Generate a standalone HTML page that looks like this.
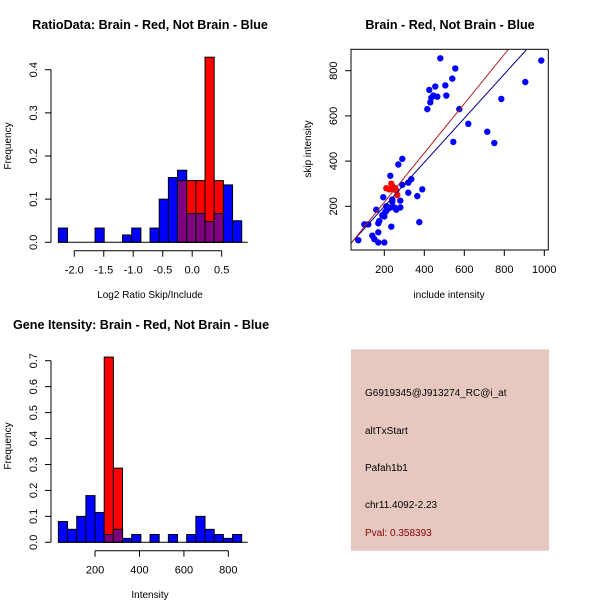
<!DOCTYPE html>
<html><head><meta charset="utf-8"><style>
body{margin:0;background:#fff}
svg{display:block;font-family:"Liberation Sans",sans-serif}
</style></head><body>
<svg id="c" width="600" height="600" viewBox="0 0 600 600"></svg>
<script>
// Panel 1: ratio histogram
const ratioBinStart = -2.27, ratioBinWidth = 0.1555;
const ratioBlue = [0.033,0,0,0,0.033,0,0,0.017,0.033,0,0.033,0.1,0.15,0.167,0.067,0.067,0.048,0.067,0.133,0.05];
const ratioRed  = [0,0,0,0,0,0,0,0,0,0,0,0,0,0.143,0.143,0.143,0.429,0.143,0,0];
const ratioXTicks = [-2.0,-1.5,-1.0,-0.5,0.0,0.5];
const ratioYTicks = [0.0,0.1,0.2,0.3,0.4];
// Panel 2: scatter
const blueX = [70,100,120,140,150,170,170,170,175,160,200,195,190,200,205,210,210,220,230,230,235,240,240,250,260,270,280,280,290,290,320,320,335,365,375,390,415,425,430,435,445,455,465,480,505,510,540,545,555,575,620,715,750,785,905,985];
const blueY = [50,120,120,70,55,40,85,125,135,185,40,240,160,155,175,180,200,190,195,335,110,230,220,195,185,385,225,195,410,295,305,260,320,245,130,275,630,715,660,680,690,730,685,855,735,690,765,485,810,630,565,530,480,675,750,845];
const redX = [210,225,235,240,255,265,260,245];
const redY = [280,275,300,275,280,250,270,285];
const redLine = [0,1.09];   // intercept, slope
const blueLine = [4,0.976];
const scatXTicks = [200,400,600,800,1000];
const scatYTicks = [200,400,600,800];
// Panel 3: intensity histogram
const intBinStart = 35, intBinWidth = 41.25;
const intBlue = [0.08,0.05,0.1,0.18,0.115,0.03,0.05,0.015,0.03,0,0.03,0,0.03,0,0.03,0.1,0.05,0.03,0.015,0.03];
const intRed  = [0,0,0,0,0,0.714,0.286,0,0,0,0,0,0,0,0,0,0,0,0,0];
const intXTicks = [200,400,600,800];
const intYTicks = [0.0,0.1,0.2,0.3,0.4,0.5,0.6,0.7];

const svg = document.getElementById('c');
const NS = 'http://www.w3.org/2000/svg';
function el(tag, at, parent){const e=document.createElementNS(NS,tag);for(const k in at)e.setAttribute(k,at[k]);(parent||svg).appendChild(e);return e;}
function txt(s,x,y,at){const t=el('text',Object.assign({x:x,y:y,'font-size':10,'text-anchor':'middle',fill:'#000'},at||{}));t.textContent=s;return t;}

function hist(opts){
  const g = el('g',{});
  
  
  const X=v=>opts.x0+(v-opts.xv0)*opts.xs, Y=v=>opts.y0-v*opts.ys;
  opts.blue.forEach((b,i)=>{
    const a=opts.bs+i*opts.bw, r=opts.red[i];
    const x=X(a), w=opts.bw*opts.xs;
    if(b>0){const e=el('rect',{x:x,y:Y(b),width:w,height:Y(0)-Y(b),fill:'#0000ff',stroke:'#000','stroke-width':1},g);
      }
    if(r>0){const e=el('rect',{x:x,y:Y(r),width:w,height:Y(0)-Y(r),fill:'#ff0000',stroke:'#000','stroke-width':1},g);
      }
    const m=Math.min(b,r);
    if(m>0){const e=el('rect',{x:x,y:Y(m),width:w,height:Y(0)-Y(m),fill:'#7f007f',stroke:'#000','stroke-width':1},g);
      }
  });
  const ya=el('g',{},g);
  const yt=opts.yt;
  el('line',{x1:opts.yax,x2:opts.yax,y1:Y(yt[0]),y2:Y(yt[yt.length-1]),stroke:'#000'},ya);
  yt.forEach(v=>{el('line',{x1:opts.yax-6,x2:opts.yax,y1:Y(v),y2:Y(v),stroke:'#000'},ya);
    txt(v.toFixed(1),opts.yax-14,Y(v),{transform:`rotate(-90 ${opts.yax-14} ${Y(v)})`,'font-size':11});});
  el('line',{x1:X(opts.bs),x2:X(opts.bs+opts.bw*opts.blue.length)+6,y1:Y(0),y2:Y(0),stroke:'#000'},g);
  const xa=el('g',{},g);
  const xt=opts.xt;
  el('line',{x1:X(xt[0]),x2:X(xt[xt.length-1]),y1:opts.xay,y2:opts.xay,stroke:'#000'},xa);
  xt.forEach(v=>{el('line',{x1:X(v),x2:X(v),y1:opts.xay,y2:opts.xay+6,stroke:'#000'},xa);
    txt(opts.fmt(v),X(v),opts.xay+23,{'font-size':11});});
}

hist({name:'ratio-histogram',x0:192.2,xv0:0,xs:58.96,y0:242.3,ys:431.5,bs:ratioBinStart,bw:ratioBinWidth,
  blue:ratioBlue,red:ratioRed,yt:ratioYTicks,xt:ratioXTicks,yax:51,xay:250.7,fmt:v=>v.toFixed(1)});
hist({name:'intensity-histogram',x0:50.6,xv0:0,xs:0.2222,y0:542.3,ys:259.4,bs:intBinStart,bw:intBinWidth,
  blue:intBlue,red:intRed,yt:intYTicks,xt:intXTicks,yax:51,xay:550.7,fmt:v=>String(v)});

let t;
t=txt('RatioData: Brain - Red, Not Brain - Blue',150,29,{'font-size':12.6,'font-weight':'bold'});
t=txt('Brain - Red, Not Brain - Blue',450,29,{'font-size':12.6,'font-weight':'bold'});
t=txt('Gene Itensity: Brain - Red, Not Brain - Blue',13,329,{'font-size':12.6,'font-weight':'bold','text-anchor':'start'});
t=txt('Log2 Ratio Skip/Include',150,298);
t=txt('Frequency',11,146,{transform:'rotate(-90 11 146)'});
t=txt('Intensity',150,598);
t=txt('Frequency',11,446,{transform:'rotate(-90 11 446)'});
t=txt('include intensity',449,298);
t=txt('skip intensity',311,149,{transform:'rotate(-90 311 149)'});

(function(){
  const L=351,R=548.3,T=49.3,B=250;
  const X=v=>344.3+v*0.2, Y=v=>251.5-v*0.226;
  const g=el('g',{});
  const cp=el('clipPath',{id:'cp'},g);el('rect',{x:L,y:T,width:R-L,height:B-T},cp);
  const pts=el('g',{'clip-path':'url(#cp)'},g);
  blueX.forEach((x,i)=>{const c=el('circle',{cx:X(x),cy:Y(blueY[i]),r:3.2,fill:'#0000ff'},pts);
    });
  redX.forEach((x,i)=>{const c=el('circle',{cx:X(x),cy:Y(redY[i]),r:3.2,fill:'#ff0000'},pts);
    });
  let ln=el('line',{x1:X(0),y1:Y(blueLine[0]),x2:X(1100),y2:Y(blueLine[0]+blueLine[1]*1100),stroke:'#00008b','stroke-width':1},pts);
  
  ln=el('line',{x1:X(0),y1:Y(redLine[0]),x2:X(1100),y2:Y(redLine[0]+redLine[1]*1100),stroke:'#b22222','stroke-width':1},pts);
  
  const f=el('rect',{x:L,y:T,width:R-L,height:B-T,fill:'none',stroke:'#000'},g);
  
  scatXTicks.forEach(v=>{el('line',{x1:X(v),x2:X(v),y1:B,y2:B+6,stroke:'#000'},g);txt(String(v),X(v),B+23,{'font-size':11});});
  scatYTicks.forEach(v=>{el('line',{x1:L-6,x2:L,y1:Y(v),y2:Y(v),stroke:'#000'},g);
    txt(String(v),L-14,Y(v),{'font-size':11,transform:`rotate(-90 ${L-14} ${Y(v)})`});});
})();

(function(){
  const g=el('g',{});
  el('rect',{x:351,y:349.3,width:198,height:201.4,fill:'#e6c8c0'},g);
  const lines=[['G6919345@J913274_RC@i_at',396,'#000','probe-id'],['altTxStart',434,'#000','event-type'],['Pafah1b1',471,'#000','gene-name'],['chr11.4092-2.23',508,'#000','location'],['Pval: 0.358393',536,'#8b0000','p-value']];
  lines.forEach(l=>{const t=txt(l[0],365,l[1],{'text-anchor':'start',fill:l[2]},g);g.appendChild(t);
    });
})();
</script>
</body></html>
